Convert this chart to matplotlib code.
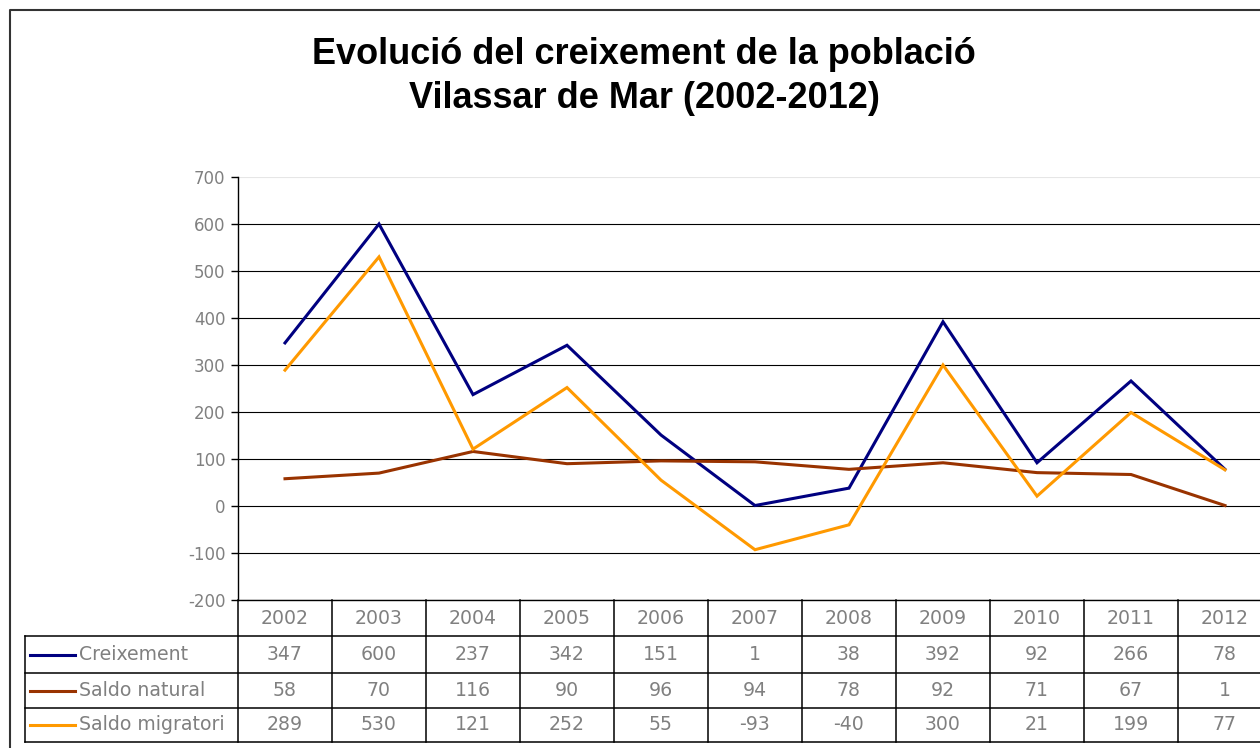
import matplotlib
matplotlib.use("Agg")
import matplotlib.pyplot as plt
from matplotlib.lines import Line2D
import matplotlib.transforms as mtransforms

plt.rcParams["axes.unicode_minus"] = False

# data
years = ["2002", "2003", "2004", "2005", "2006", "2007", "2008", "2009", "2010", "2011", "2012"]
creixement = [347, 600, 237, 342, 151, 1, 38, 392, 92, 266, 78]
saldo_natural = [58, 70, 116, 90, 96, 94, 78, 92, 71, 67, 1]
saldo_migratori = [289, 530, 121, 252, 55, -93, -40, 300, 21, 199, 77]
series_names = ["Creixement", "Saldo natural", "Saldo migratori"]
series_colors = ["#000080", "#993300", "#FF9900"]
yticks = list(range(-200, 701, 100))

W, H = 1260, 748
fig = plt.figure(figsize=(W / 100, H / 100), dpi=100)


def fx(x):
    return x / W


def fy(y):
    return 1 - y / H


# plot area (extends past right edge like the original screenshot)
left, right, top, bottom = 238, 1272, 177, 600
ax = fig.add_axes([fx(left), fy(bottom), fx(right - left), fy(top) - fy(bottom)])
x = list(range(len(years)))
for vals, c in zip([creixement, saldo_natural, saldo_migratori], series_colors):
    ax.plot(x, vals, color=c, lw=2.2, solid_joinstyle="miter", zorder=3)

ax.set_xlim(-0.5, len(years) - 0.5)
ax.set_ylim(-200, 700)
ax.set_yticks(yticks)
ax.set_xticks([])
for t in yticks:
    col = "#e6e6e6" if t == 700 else "black"
    ax.axhline(t, color=col, lw=0.8, zorder=1)
for s in ["top", "right"]:
    ax.spines[s].set_visible(False)
ax.spines["left"].set_linewidth(1.0)
ax.spines["bottom"].set_linewidth(1.0)
ax.tick_params(axis="y", direction="out", length=5, width=1, pad=4,
               labelsize=12, labelcolor="#808080")

# data table under the chart
blend = mtransforms.blended_transform_factory(ax.transData, fig.transFigure)
row_y = [600, 636, 673, 708, 742]
gray = "#808080"
tsize = 13.6

for ry in row_y[1:]:
    fig.add_artist(Line2D([fx(25), fx(W + 20)], [fy(ry), fy(ry)], color="black", lw=1.1))
for i in range(len(years) + 1):
    fig.add_artist(Line2D([i - 0.5, i - 0.5], [fy(600), fy(742)], color="black", lw=1.1,
                          transform=blend))
fig.add_artist(Line2D([fx(25), fx(25)], [fy(636), fy(742)], color="black", lw=1.1))

for i, yr in enumerate(years):
    fig.text(i, fy((row_y[0] + row_y[1]) / 2), yr, transform=blend, ha="center",
             va="center", fontsize=tsize, color=gray)
rows = [creixement, saldo_natural, saldo_migratori]
for r, (name, vals, c) in enumerate(zip(series_names, rows, series_colors)):
    yc = fy((row_y[r + 1] + row_y[r + 2]) / 2)
    fig.add_artist(Line2D([fx(30), fx(75)], [yc, yc], color=c, lw=2.2))
    fig.text(fx(79), yc, name, ha="left", va="center", fontsize=tsize, color=gray)
    for i, v in enumerate(vals):
        fig.text(i, yc, str(v), transform=blend, ha="center", va="center",
                 fontsize=tsize, color=gray)

# title
fig.text(fx(644), fy(55), "Evolució del creixement de la població",
         ha="center", va="center", fontsize=26, fontweight="bold", family="Liberation Sans")
fig.text(fx(644), fy(98), "Vilassar de Mar (2002-2012)",
         ha="center", va="center", fontsize=26, fontweight="bold", family="Liberation Sans")

# outer chart border (top and left visible)
fig.add_artist(Line2D([fx(10), fx(10), fx(W + 20)], [fy(H + 20), fy(10), fy(10)],
                      color="#333333", lw=1.5))

fig.savefig("out.png", dpi=100)
